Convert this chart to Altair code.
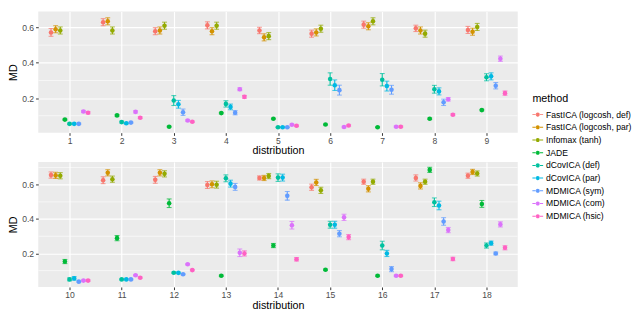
import altair as alt
import pandas as pd

methods = ["FastICA (logcosh, def)", "FastICA (logcosh, par)", "Infomax (tanh)", "JADE",
           "dCovICA (def)", "dCovICA (par)", "MDMICA (sym)", "MDMICA (com)", "MDMICA (hsic)"]
colors = ["#F8766D", "#D39200", "#93AA00", "#00BA38", "#00C19F", "#00B9E3",
          "#619CFF", "#DB72FB", "#FF61C3"]

dists_top = [1, 2, 3, 4, 5, 6, 7, 8, 9]
dists_bottom = [10, 11, 12, 13, 14, 15, 16, 17, 18]

# MD values, one row per distribution, columns in the order of `methods`
md_top = [
    [0.572, 0.590, 0.583, 0.078, 0.054, 0.054, 0.054, 0.124, 0.117],
    [0.630, 0.635, 0.583, 0.102, 0.064, 0.057, 0.061, 0.122, 0.089],
    [0.579, 0.583, 0.610, 0.038, 0.186, 0.165, 0.120, 0.073, 0.066],
    [0.612, 0.579, 0.610, 0.115, 0.167, 0.150, 0.117, 0.250, 0.207],
    [0.583, 0.544, 0.551, 0.083, 0.035, 0.035, 0.035, 0.049, 0.043],
    [0.565, 0.572, 0.593, 0.050, 0.308, 0.273, 0.245, 0.036, 0.045],
    [0.616, 0.607, 0.635, 0.035, 0.304, 0.268, 0.247, 0.038, 0.038],
    [0.595, 0.583, 0.565, 0.083, 0.250, 0.238, 0.176, 0.193, 0.106],
    [0.586, 0.576, 0.603, 0.132, 0.318, 0.323, 0.270, 0.423, 0.228],
]
err_top = [
    [0.022, 0.020, 0.020, 0.004, 0.004, 0.004, 0.004, 0.006, 0.006],
    [0.020, 0.020, 0.020, 0.005, 0.005, 0.004, 0.004, 0.006, 0.005],
    [0.020, 0.020, 0.020, 0.003, 0.028, 0.022, 0.018, 0.005, 0.004],
    [0.020, 0.020, 0.020, 0.004, 0.018, 0.016, 0.012, 0.008, 0.008],
    [0.018, 0.020, 0.020, 0.003, 0.003, 0.003, 0.003, 0.004, 0.004],
    [0.020, 0.020, 0.020, 0.003, 0.035, 0.030, 0.028, 0.004, 0.004],
    [0.020, 0.020, 0.020, 0.003, 0.035, 0.028, 0.025, 0.004, 0.004],
    [0.018, 0.020, 0.020, 0.004, 0.022, 0.020, 0.018, 0.010, 0.005],
    [0.020, 0.020, 0.020, 0.004, 0.020, 0.020, 0.018, 0.015, 0.012],
]
md_bottom = [
    [0.656, 0.654, 0.652, 0.153, 0.049, 0.055, 0.036, 0.042, 0.042],
    [0.626, 0.669, 0.632, 0.289, 0.049, 0.049, 0.049, 0.073, 0.059],
    [0.628, 0.669, 0.663, 0.492, 0.088, 0.087, 0.079, 0.137, 0.103],
    [0.598, 0.602, 0.600, 0.070, 0.637, 0.606, 0.587, 0.204, 0.200],
    [0.639, 0.639, 0.650, 0.246, 0.641, 0.641, 0.535, 0.364, 0.166],
    [0.585, 0.613, 0.567, 0.105, 0.367, 0.367, 0.315, 0.410, 0.295],
    [0.617, 0.576, 0.617, 0.070, 0.246, 0.200, 0.109, 0.070, 0.070],
    [0.639, 0.593, 0.617, 0.686, 0.498, 0.479, 0.386, 0.336, 0.168],
    [0.652, 0.674, 0.665, 0.488, 0.246, 0.260, 0.200, 0.369, 0.233],
]
err_bottom = [
    [0.018, 0.018, 0.018, 0.012, 0.008, 0.010, 0.004, 0.004, 0.005],
    [0.020, 0.018, 0.018, 0.015, 0.004, 0.004, 0.004, 0.004, 0.004],
    [0.020, 0.018, 0.018, 0.025, 0.004, 0.004, 0.004, 0.004, 0.004],
    [0.020, 0.020, 0.020, 0.004, 0.020, 0.020, 0.020, 0.022, 0.015],
    [0.012, 0.015, 0.015, 0.012, 0.022, 0.020, 0.025, 0.022, 0.010],
    [0.018, 0.018, 0.018, 0.004, 0.020, 0.020, 0.018, 0.018, 0.015],
    [0.015, 0.018, 0.015, 0.004, 0.025, 0.018, 0.015, 0.004, 0.004],
    [0.018, 0.018, 0.015, 0.015, 0.025, 0.025, 0.022, 0.015, 0.010],
    [0.015, 0.015, 0.015, 0.020, 0.015, 0.012, 0.008, 0.015, 0.012],
]

major_breaks = [0.2, 0.4, 0.6]
minor_breaks = [0.1, 0.3, 0.5, 0.7]

DODGE = 0.8
n_m = len(methods)


def build_df(dists, md, err):
    rows = []
    for d, vals, errs in zip(dists, md, err):
        for i, (m, v, e) in enumerate(zip(methods, vals, errs)):
            off = (i - (n_m - 1) / 2) * DODGE / n_m
            rows.append({"distribution": d, "x": d + off, "method": m,
                         "md": v, "lo": v - e, "hi": v + e})
    return pd.DataFrame(rows)


legend_path = ("M-1,-0.09H-0.3V0.09H-1Z M0.3,-0.09H1V0.09H0.3Z "
               "M-0.38,0A0.38,0.38,0,1,0,0.38,0A0.38,0.38,0,1,0,-0.38,0Z")

color_scale = alt.Scale(domain=methods, range=colors)
legend = alt.Legend(title="method", orient="none", legendX=506, legendY=84,
                    symbolType=legend_path, symbolSize=121, symbolStrokeWidth=0,
                    symbolOpacity=1, labelFontSize=8.8, titleFontSize=11,
                    labelFont="Liberation Sans", titleFont="Liberation Sans",
                    titleFontWeight="normal", labelColor="#000000",
                    rowPadding=2, titlePadding=5, labelOffset=3, labelLimit=200)


def panel(dists, md, err, ydom, height):
    df = build_df(dists, md, err)
    xscale = alt.Scale(domain=[dists[0] - 0.6, dists[-1] + 0.6], nice=False, zero=False)
    yscale = alt.Scale(domain=ydom, nice=False, zero=False)
    xax = alt.Axis(values=dists, format="d", title="distribution", grid=True)
    yax = alt.Axis(values=major_breaks, format=".1f", title="MD", grid=True)
    base = alt.Chart(df)
    col = alt.Color("method:N", scale=color_scale, legend=legend, sort=None)
    minor = alt.Chart(pd.DataFrame({"v": minor_breaks})).mark_rule(
        color="white", strokeWidth=0.6, clip=True
    ).encode(y=alt.Y("v:Q", scale=yscale, axis=yax))
    rules = base.mark_rule(strokeWidth=1.1).encode(
        x=alt.X("x:Q", scale=xscale, axis=xax),
        y=alt.Y("lo:Q", scale=yscale, axis=yax), y2="hi:Q", color=col)
    cap_lo = base.mark_tick(orient="horizontal", size=5, thickness=1.1).encode(
        x=alt.X("x:Q", scale=xscale, axis=xax),
        y=alt.Y("lo:Q", scale=yscale, axis=yax), color=col)
    cap_hi = base.mark_tick(orient="horizontal", size=5, thickness=1.1).encode(
        x=alt.X("x:Q", scale=xscale, axis=xax),
        y=alt.Y("hi:Q", scale=yscale, axis=yax), color=col)
    pts = base.mark_point(shape="circle", filled=True, size=22, opacity=1).encode(
        x=alt.X("x:Q", scale=xscale, axis=xax),
        y=alt.Y("md:Q", scale=yscale, axis=yax), color=col)
    return alt.layer(minor, rules, cap_lo, cap_hi, pts).properties(width=491, height=height)


top = panel(dists_top, md_top, err_top, [0.004, 0.69], 124)
bottom = panel(dists_bottom, md_bottom, err_bottom, [0.005, 0.732], 128)

chart = alt.vconcat(top, bottom, spacing=6).properties(padding=0).configure_view(
    fill="#EBEBEB", stroke=None
).configure_axis(
    labelFont="Liberation Sans", titleFont="Liberation Sans",
    labelFontSize=8.8, titleFontSize=11, labelColor="#4D4D4D", titleColor="#000000",
    titleFontWeight="normal", tickColor="#333333", tickSize=2.75, tickWidth=1,
    labelPadding=1, titlePadding=0, domain=False, gridColor="white", gridWidth=1.2,
).configure_axisY(titlePadding=3, labelPadding=2)

chart.save("out.html", embed_options={"renderer": "svg", "actions": False})
